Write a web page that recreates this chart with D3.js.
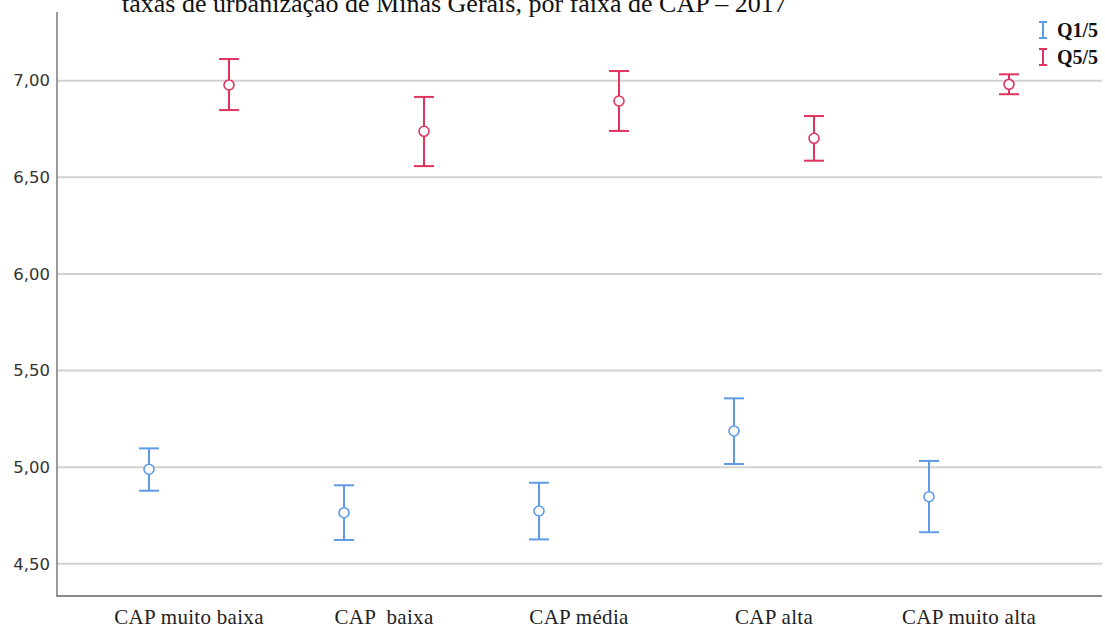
<!DOCTYPE html>
<html>
<head>
<meta charset="utf-8">
<script src="https://d3js.org/d3.v7.min.js"></script>
<style>
  body { margin: 0; background: #fff; }
</style>
</head>
<body>
<script>

// categories and series
var categories = ["CAP muito baixa", "CAP  baixa", "CAP média", "CAP alta", "CAP muito alta"];
var series = ["Q1/5", "Q5/5"];
var colors = ["#5f9ae6", "#e0335e"];

// means and interval limits
var q1Mean  = [4.989, 4.764, 4.773, 5.187, 4.847];
var q1Upper = [5.097, 4.906, 4.919, 5.356, 5.032];
var q1Lower = [4.878, 4.623, 4.626, 5.016, 4.663];

var q5Mean  = [6.978, 6.738, 6.895, 6.702, 6.981];
var q5Upper = [7.112, 6.916, 7.050, 6.817, 7.033];
var q5Lower = [6.848, 6.558, 6.740, 6.586, 6.930];

var yTicks = [4.5, 5.0, 5.5, 6.0, 6.5, 7.0];

var width = 1105, height = 628;

var svg = d3.select("body").append("svg").attr("width", width).attr("height", height);

var x = d3.scaleBand().domain(categories).range([91.5, 1066.5]);
var xs = d3.scalePoint().domain(series).range([-40, 40]);
var y = d3.scaleLinear().domain([4.333, 7.0]).range([596, 80.7]);

var fmt = function(v){ return d3.format(".2f")(v).replace(".", ","); };

//gridlines
svg.append("g").selectAll("line").data(yTicks).enter().append("line")
  .attr("x1", 57).attr("x2", 1102)
  .attr("y1", function(d){ return y(d); }).attr("y2", function(d){ return y(d); })
  .attr("stroke", "#d2d2d2").attr("stroke-width", 2);

//y axis
var yAxis = svg.append("g").attr("transform", "translate(57,0)")
  .call(d3.axisLeft(y).tickValues(yTicks).tickFormat(fmt).tickSize(0).tickPadding(7));
yAxis.select(".domain").remove();
yAxis.selectAll("text").attr("font-family", "'DejaVu Sans', sans-serif").attr("font-size", 16.5).attr("fill", "#333");

svg.append("line").attr("x1", 57).attr("x2", 57).attr("y1", 12).attr("y2", 597)
  .attr("stroke", "#9a9a9a").attr("stroke-width", 2);
svg.append("line").attr("x1", 56).attr("x2", 1102).attr("y1", 596).attr("y2", 596)
  .attr("stroke", "#8a8a8a").attr("stroke-width", 2);

//x axis labels
var xAxis = svg.append("g").attr("transform", "translate(0,596)")
  .call(d3.axisBottom(x).tickSize(0).tickPadding(13));
xAxis.select(".domain").remove();
xAxis.selectAll("text").attr("font-family", "'Liberation Serif', serif").attr("font-size", 21)
  .attr("letter-spacing", 0.3).attr("fill", "#222").style("white-space", "pre");

//error bars
var data = [];
categories.forEach(function(c, i){
  data.push({cat: c, s: series[0], mean: q1Mean[i], lo: q1Lower[i], hi: q1Upper[i], col: colors[0]});
  data.push({cat: c, s: series[1], mean: q5Mean[i], lo: q5Lower[i], hi: q5Upper[i], col: colors[1]});
});

var g = svg.append("g").selectAll("g").data(data).enter().append("g")
  .attr("transform", function(d){ return "translate(" + (x(d.cat) + x.bandwidth()/2 + xs(d.s)) + ",0)"; });

g.append("line").attr("x1", 0).attr("x2", 0)
  .attr("y1", function(d){ return y(d.hi); }).attr("y2", function(d){ return y(d.lo); })
  .attr("stroke", function(d){ return d.col; }).attr("stroke-width", 2);
g.append("line").attr("x1", -10).attr("x2", 10)
  .attr("y1", function(d){ return y(d.hi); }).attr("y2", function(d){ return y(d.hi); })
  .attr("stroke", function(d){ return d.col; }).attr("stroke-width", 2);
g.append("line").attr("x1", -10).attr("x2", 10)
  .attr("y1", function(d){ return y(d.lo); }).attr("y2", function(d){ return y(d.lo); })
  .attr("stroke", function(d){ return d.col; }).attr("stroke-width", 2);
g.append("circle").attr("cx", 0).attr("cy", function(d){ return y(d.mean); }).attr("r", 5)
  .attr("fill", "#fff").attr("stroke", function(d){ return d.col; }).attr("stroke-width", 1.6);

//title (cropped at the top in the original)
svg.append("text").attr("x", 122).attr("y", 12)
  .attr("font-family", "'Liberation Serif', serif").attr("font-size", 26).attr("fill", "#111")
  .text("taxas de urbanização de Minas Gerais, por faixa de CAP – 2017");

//legend
var leg = svg.append("g").selectAll("g").data(series).enter().append("g")
  .attr("transform", function(d, i){ return "translate(1043," + (30 + i*27) + ")"; });
leg.append("line").attr("x1", 0).attr("x2", 0).attr("y1", -8).attr("y2", 8)
  .attr("stroke", function(d, i){ return colors[i]; }).attr("stroke-width", 2);
leg.append("line").attr("x1", -4).attr("x2", 4).attr("y1", -8).attr("y2", -8)
  .attr("stroke", function(d, i){ return colors[i]; }).attr("stroke-width", 2);
leg.append("line").attr("x1", -4).attr("x2", 4).attr("y1", 8).attr("y2", 8)
  .attr("stroke", function(d, i){ return colors[i]; }).attr("stroke-width", 2);
leg.append("text").attr("x", 14).attr("y", 7)
  .attr("font-family", "'Liberation Serif', serif").attr("font-size", 20).attr("font-weight", "bold")
  .attr("fill", "#111").text(function(d){ return d; });

</script>
</body>
</html>
